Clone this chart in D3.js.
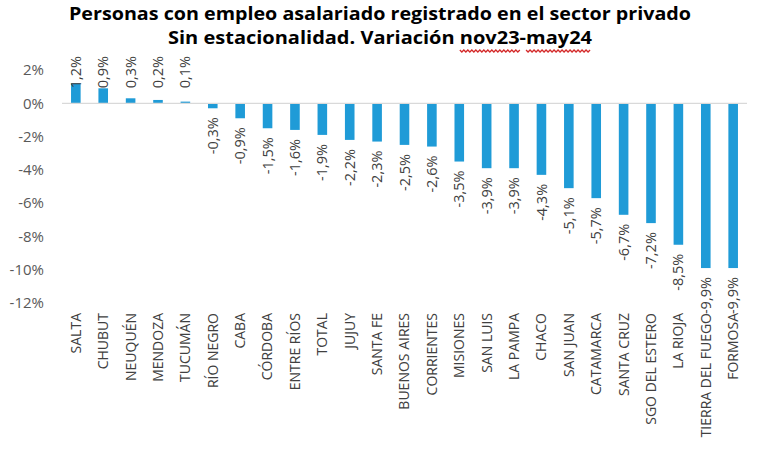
<!DOCTYPE html>
<html>
<head>
<meta charset="utf-8">
<title>Empleo asalariado registrado</title>
<style>
  body { margin: 0; background: #fff; }
  .title { font-family: "Open Sans", sans-serif; font-weight: bold; fill: #000; }
  .tick-label { font-family: "Open Sans", sans-serif; font-size: 15px; fill: #595959; }
  .cat-label { font-family: "Open Sans", sans-serif; font-size: 14px; fill: #404040; }
  .val-label { font-family: "Open Sans", sans-serif; font-size: 14.5px; fill: #404040; }
</style>
</head>
<body>
<script src="https://cdnjs.cloudflare.com/ajax/libs/d3/7.8.5/d3.min.js"></script>
<script>
const provincias = ["SALTA", "CHUBUT", "NEUQUÉN", "MENDOZA", "TUCUMÁN", "RÍO NEGRO", "CABA",
  "CÓRDOBA", "ENTRE RÍOS", "TOTAL", "JUJUY", "SANTA FE", "BUENOS AIRES", "CORRIENTES",
  "MISIONES", "SAN LUIS", "LA PAMPA", "CHACO", "SAN JUAN", "CATAMARCA", "SANTA CRUZ",
  "SGO DEL ESTERO", "LA RIOJA", "TIERRA DEL FUEGO", "FORMOSA"];
const variacion = [1.2, 0.9, 0.3, 0.2, 0.1, -0.3, -0.9, -1.5, -1.6, -1.9, -2.2, -2.3, -2.5, -2.6,
  -3.5, -3.9, -3.9, -4.3, -5.1, -5.7, -6.7, -7.2, -8.5, -9.9, -9.9];
const yTicks = [2, 0, -2, -4, -6, -8, -10, -12];
const titulo1 = "Personas con empleo asalariado registrado en el sector privado";
const titulo2a = "Sin estacionalidad. Variación ";
const titulo2b = ["nov23", "-", "may24"];

const width = 760, height = 450;
const fmt = v => d3.format(".1f")(v).replace(".", ",").replace("−", "-") + "%";

const svg = d3.select("body").append("svg")
  .attr("width", width)
  .attr("height", height);

const x = d3.scaleBand()
  .domain(provincias)
  .range([62, 747])
  .paddingInner(0.65)
  .paddingOuter(0.33);

const y = d3.scaleLinear()
  .domain([-12, 2])
  .range([303, 70]);

// y tick labels (no axis line, no gridlines)
svg.append("g")
  .selectAll("text")
  .data(yTicks)
  .join("text")
  .attr("class", "tick-label")
  .attr("x", 44)
  .attr("y", d => y(d))
  .attr("dy", "0.35em")
  .attr("text-anchor", "end")
  .text(d => d + "%");

// bars
svg.append("g")
  .selectAll("rect")
  .data(variacion)
  .join("rect")
  .attr("x", (d, i) => x(provincias[i]))
  .attr("width", x.bandwidth())
  .attr("y", d => y(Math.max(0, d)))
  .attr("height", d => Math.abs(y(d) - y(0)))
  .attr("fill", "#1F9BD7");

// zero line
svg.append("line")
  .attr("x1", 62).attr("x2", 747)
  .attr("y1", y(0)).attr("y2", y(0))
  .attr("stroke", "#d9d9d9")
  .attr("stroke-width", 1.2);

// value labels
svg.append("g")
  .selectAll("text")
  .data(variacion)
  .join("text")
  .attr("class", "val-label")
  .attr("transform", (d, i) => {
    const cx = x(provincias[i]) + x.bandwidth() / 2;
    const yy = d >= 0 ? y(0) - 15 : y(d) + 9;
    return `translate(${cx},${yy}) rotate(-90)`;
  })
  .attr("dy", "0.35em")
  .attr("text-anchor", d => d >= 0 ? "start" : "end")
  .text(d => fmt(d));

// category labels
svg.append("g")
  .selectAll("text")
  .data(provincias)
  .join("text")
  .attr("class", "cat-label")
  .attr("transform", d => `translate(${x(d) + x.bandwidth() / 2},313) rotate(-90)`)
  .attr("dy", "0.35em")
  .attr("text-anchor", "end")
  .text(d => d);

// title
svg.append("text")
  .attr("class", "title")
  .attr("x", 380).attr("y", 20)
  .attr("text-anchor", "middle")
  .style("font-size", "18px")
  .attr("textLength", 622)
  .attr("lengthAdjust", "spacingAndGlyphs")
  .text(titulo1);

const t2 = svg.append("text")
  .attr("class", "title")
  .attr("x", 380).attr("y", 44)
  .attr("text-anchor", "middle")
  .style("font-size", "18px")
  .attr("textLength", 424)
  .attr("lengthAdjust", "spacingAndGlyphs");
t2.append("tspan").text(titulo2a);
const spans = titulo2b.map(s => t2.append("tspan").text(s));

// red squiggle under nov23 and may24
[spans[0], spans[2]].forEach(sp => {
  const b = sp.node().getBBox();
  const y0 = b.y + b.height + 1;
  let p = `M${b.x},${y0}`;
  for (let xx = b.x; xx < b.x + b.width - 2; xx += 4) {
    p += ` L${xx + 2},${y0 + 2} L${xx + 4},${y0}`;
  }
  svg.append("path")
    .attr("d", p)
    .attr("fill", "none")
    .attr("stroke", "#d42a2a")
    .attr("stroke-width", 1.3);
});
</script>
</body>
</html>
